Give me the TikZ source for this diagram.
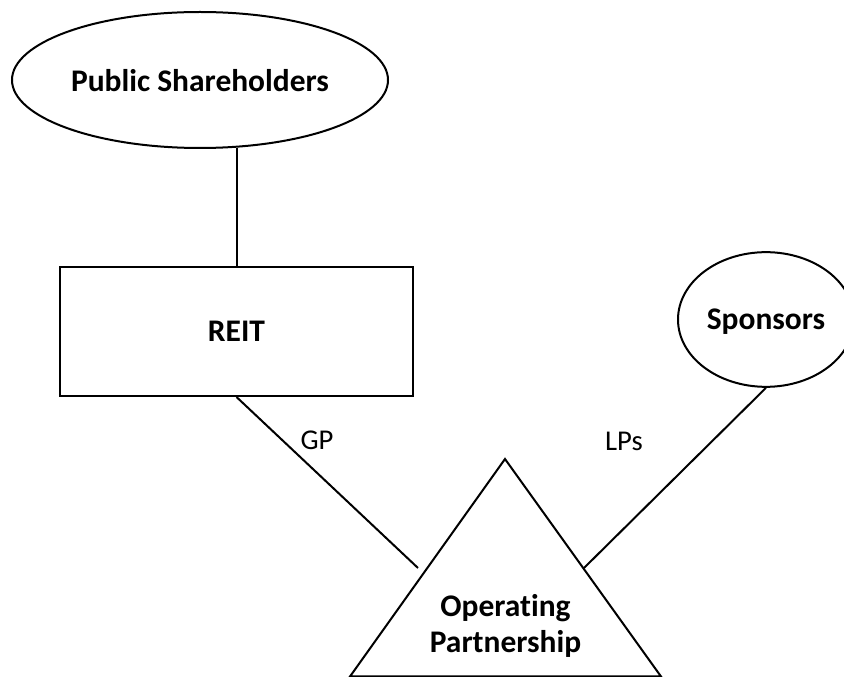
\documentclass[tikz,border=0pt]{standalone}
\usepackage{fontspec}
\setmainfont{Carlito}[Ligatures=NoCommon]
\usetikzlibrary{shapes.geometric}

\begin{document}
\begin{tikzpicture}[x=0.75pt,y=-0.75pt,line width=1.5pt,
    holder/.style={ellipse,draw,inner sep=0pt,text depth=0pt,font=\bfseries\fontsize{23.6}{27}\selectfont},
    entity/.style={rectangle,draw,inner sep=0pt,font=\bfseries\fontsize{23.6}{27}\selectfont},
    share/.style={inner sep=0pt,font=\fontsize{21.5}{26}\selectfont}]
      \useasboundingbox (0,0) rectangle (844,677);
      \node [holder,minimum width=282pt,minimum height=102pt] (public) at (200,80) {Public Shareholders};
      \node [entity,minimum width=264.75pt,minimum height=96.75pt] (reit) at (236.5,331.5) {REIT};
      \node [holder,minimum width=132pt,minimum height=101pt] (spons) at (766,319.5) {Sponsors};
      \coordinate (optop) at (505,459);
      \coordinate (opleft) at (350,676.5);
      \coordinate (opright) at (661,676.5);
      \draw (optop) -- (opleft) -- (opright) -- cycle;
      \node [align=center,inner sep=0pt,font=\bfseries\fontsize{23.6}{27}\selectfont] (op) at (505.5,626) {Operating\\Partnership};
      \coordinate (gpend) at (418,568);
      \coordinate (lpend) at (584,568);
      \draw (reit.north) -- (reit.north |- public.-61);
      \draw (reit.south) -- (gpend);
      \draw (spons.south) -- (lpend);
      \node [share] (gp) at (317,440) {GP};
      \node [share] (lps) at (624,441) {LPs};
    \end{tikzpicture}
\end{document}
